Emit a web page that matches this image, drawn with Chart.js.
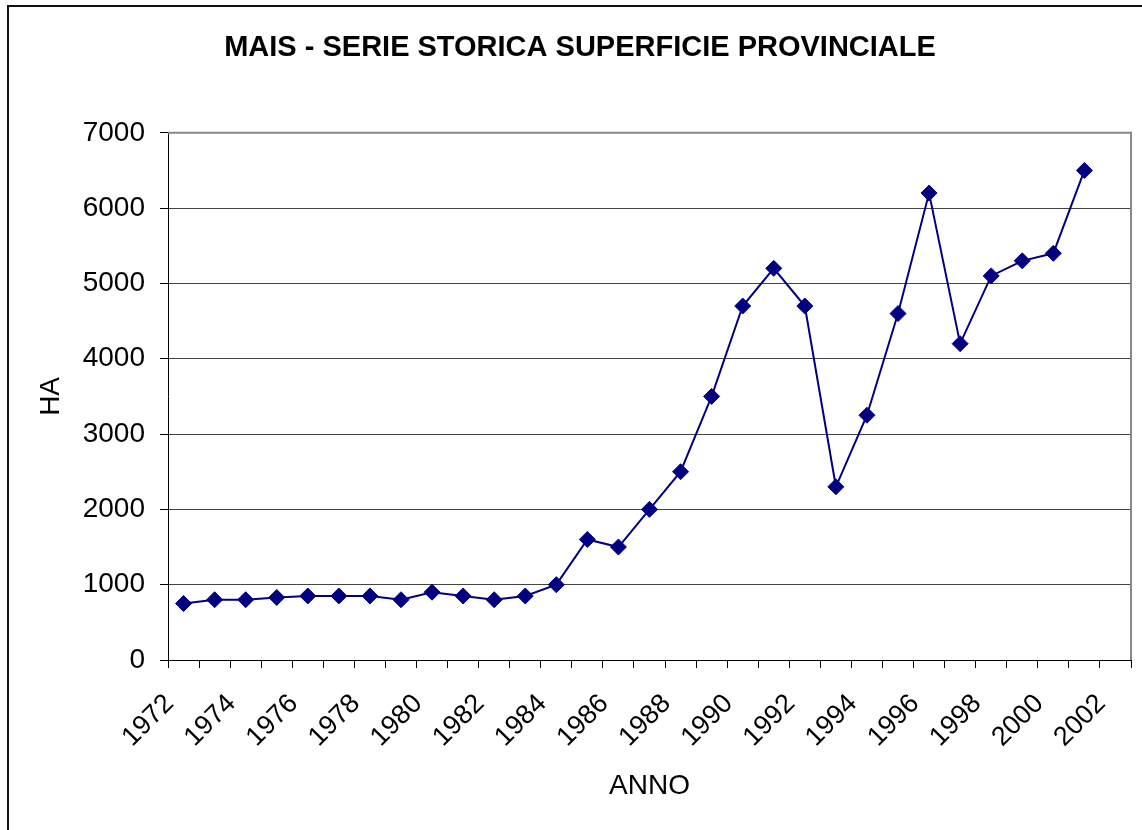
<!DOCTYPE html>
<html>
<head>
<meta charset="utf-8">
<script src="https://cdn.jsdelivr.net/npm/chart.js@4.4.1/dist/chart.umd.min.js"></script>
<style>
  body { margin: 0; background: #fff; }
  canvas { display: block; }
</style>
</head>
<body>
<canvas id="mais-chart" width="1142" height="830"></canvas>
<script>
// anni (asse x) e superficie in ettari
var years = ['1972','1973','1974','1975','1976','1977','1978','1979','1980','1981',
             '1982','1983','1984','1985','1986','1987','1988','1989','1990','1991',
             '1992','1993','1994','1995','1996','1997','1998','1999','2000','2001','2002'];
var hectares = [750, 800, 800, 830, 850, 850, 850, 800, 900, 850,
                800, 850, 1000, 1600, 1500, 2000, 2500, 3500, 4700, 5200,
                4700, 2300, 3250, 4600, 6200, 4200, 5100, 5300, 5400, 6500, null];
var yTicks = [0, 1000, 2000, 3000, 4000, 5000, 6000, 7000];

var FONT = 'Arial, "Liberation Sans", sans-serif';

// cornice esterna e bordo grigio dell'area del grafico
var frames = {
  id: 'frames',
  beforeDraw: function (chart) {
    var ctx = chart.ctx;
    ctx.save();
    ctx.strokeStyle = '#111';
    ctx.lineWidth = 2;
    ctx.beginPath();
    ctx.moveTo(8, 830);
    ctx.lineTo(8, 6);
    ctx.lineTo(1142, 6);
    ctx.stroke();
    ctx.restore();
  },
  beforeDatasetsDraw: function (chart) {
    var a = chart.chartArea;
    var ctx = chart.ctx;
    ctx.save();
    ctx.strokeStyle = '#888';
    ctx.lineWidth = 2;
    ctx.beginPath();
    ctx.moveTo(a.left, a.top);
    ctx.lineTo(a.right, a.top);
    ctx.lineTo(a.right, a.bottom);
    ctx.stroke();
    ctx.restore();
  }
};

window.addEventListener('load', function () {
  var ctx = document.getElementById('mais-chart').getContext('2d');
  var chart = new Chart(ctx, {
    type: 'line',
    data: {
      labels: years,
      datasets: [{
        label: 'HA',
        data: hectares,
        borderColor: '#000080',
        backgroundColor: '#000080',
        borderWidth: 2,
        pointStyle: 'rectRot',
        pointRadius: 8,
        pointBorderWidth: 1,
        tension: 0
      }]
    },
    options: {
      responsive: false,
      animation: false,
      layout: { autoPadding: false, padding: { left: 29, right: 11, top: 0, bottom: 0 } },
      plugins: {
        legend: { display: false },
        tooltip: { enabled: false },
        title: {
          display: true,
          text: 'MAIS - SERIE STORICA SUPERFICIE PROVINCIALE',
          color: '#000',
          font: { family: FONT, size: 29, weight: 'bold' },
          padding: { top: 31, bottom: 67 }
        }
      },
      scales: {
        x: {
          offset: true,
          grid: {
            offset: true,
            drawOnChartArea: false,
            drawTicks: true,
            tickLength: 8,
            tickColor: '#000'
          },
          border: { color: '#000', width: 1 },
          ticks: {
            autoSkip: false,
            maxRotation: 45,
            minRotation: 45,
            padding: 20,
            labelOffset: -14,
            color: '#000',
            font: { family: FONT, size: 27 },
            callback: function (v, i) { return i % 2 === 0 ? years[i] : ''; }
          },
          title: {
            display: true,
            text: 'ANNO',
            color: '#000',
            font: { family: FONT, size: 28 },
            padding: { top: 0, bottom: 27 }
          },
          afterFit: function (scale) {
            scale.height = 170;
            scale.paddingLeft = 0;
            scale.paddingRight = 0;
          }
        },
        y: {
          min: 0,
          max: 7000,
          afterBuildTicks: function (scale) {
            scale.ticks = yTicks.map(function (v) { return { value: v }; });
          },
          grid: {
            color: '#444',
            lineWidth: 1,
            tickLength: 8,
            tickColor: '#000'
          },
          border: { color: '#000', width: 1 },
          ticks: {
            padding: 15,
            color: '#000',
            font: { family: FONT, size: 28 },
            callback: function (v) { return String(v); }
          },
          title: {
            display: true,
            text: 'HA',
            color: '#000',
            font: { family: FONT, size: 28 },
            padding: { top: 5, bottom: 0 }
          },
          afterFit: function (scale) {
            scale.width = 139;
            scale.paddingTop = 0;
            scale.paddingBottom = 0;
          }
        }
      }
    },
    plugins: [frames]
  });
});
</script>
</body>
</html>
